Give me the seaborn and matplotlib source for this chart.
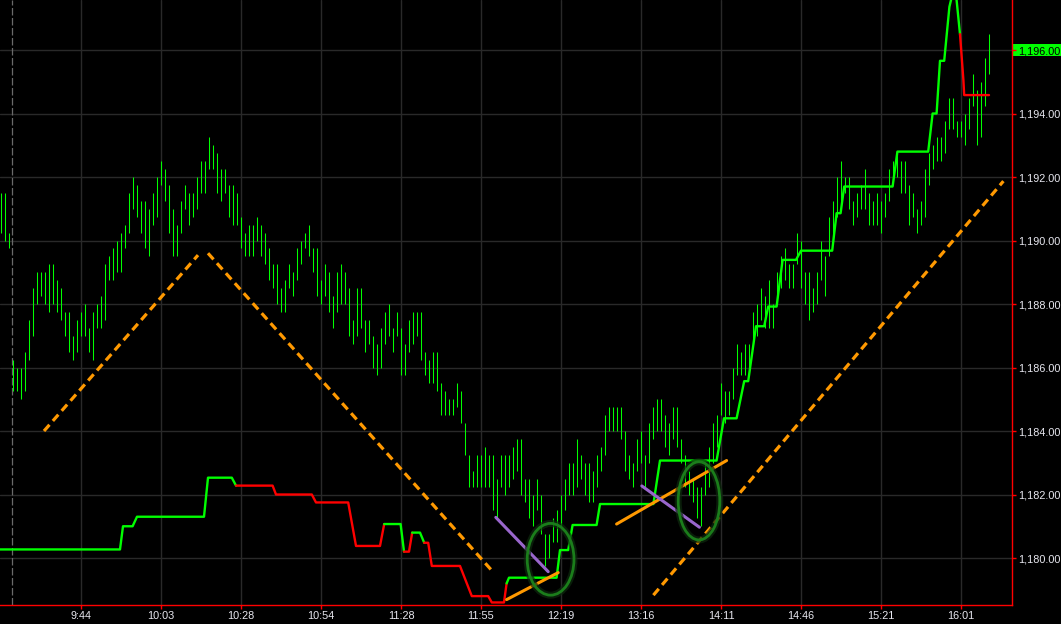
import numpy as np
import pandas as pd
import matplotlib
matplotlib.use("Agg")
import matplotlib.pyplot as plt
from matplotlib.patches import Ellipse, Rectangle
import matplotlib.transforms as mtransforms
import seaborn as sns

# ---------------- data ----------------
bar_high = [
    1191.5, 1191.5, 1190.25, 1186.25, 1186.0, 1186.0, 1186.5, 1187.5, 1188.5, 1189.0,
    1189.0, 1189.0, 1189.25, 1189.25, 1188.75, 1188.5, 1187.75, 1187.75, 1187.0, 1187.5,
    1187.75, 1188.0, 1187.25, 1187.75, 1188.0, 1188.25, 1189.25, 1189.5, 1189.75, 1190.0,
    1190.25, 1190.5, 1191.5, 1192.0, 1191.75, 1191.25, 1191.25, 1191.0, 1191.5, 1192.0,
    1192.5, 1192.25, 1191.75, 1191.0, 1190.5, 1191.25, 1191.75, 1191.5, 1191.5, 1192.0,
    1192.5, 1192.5, 1193.25, 1193.0, 1192.75, 1192.25, 1192.25, 1191.75, 1191.75, 1191.5,
    1190.75, 1190.25, 1190.5, 1190.5, 1190.75, 1190.5, 1190.25, 1189.75, 1189.25, 1189.25,
    1188.5, 1188.75, 1189.25, 1189.0, 1189.75, 1190.0, 1190.25, 1190.5, 1189.75, 1189.75,
    1188.75, 1189.25, 1189.0, 1188.25, 1189.0, 1189.25, 1189.0, 1188.5, 1187.5, 1188.5,
    1188.5, 1187.5, 1187.5, 1187.0, 1186.75, 1187.25, 1187.75, 1188.0, 1187.25, 1187.75,
    1187.25, 1186.75, 1187.5, 1187.75, 1187.75, 1187.75, 1186.5, 1186.25, 1186.5, 1186.5,
    1185.5, 1185.25, 1185.0, 1185.0, 1185.5, 1185.25, 1184.25, 1183.25, 1182.75, 1183.25,
    1183.25, 1183.5, 1183.25, 1183.25, 1182.5, 1183.25, 1183.25, 1183.25, 1183.5, 1183.75,
    1183.75, 1182.5, 1182.5, 1182.0, 1182.5, 1182.0, 1180.75, 1180.75, 1181.25, 1181.5,
    1182.0, 1182.5, 1183.0, 1183.0, 1183.75, 1183.25, 1183.0, 1183.0, 1182.75, 1183.25,
    1183.5, 1184.5, 1184.75, 1184.75, 1184.75, 1184.75, 1184.0, 1183.25, 1183.0, 1183.75,
    1184.0, 1183.25, 1184.25, 1184.75, 1185.0, 1185.0, 1184.5, 1184.25, 1184.75, 1184.75,
    1183.75, 1183.25, 1182.75, 1182.5, 1182.25, 1182.25, 1183.0, 1183.5, 1184.25, 1184.5,
    1185.5, 1185.25, 1185.25, 1186.0, 1186.75, 1186.5, 1186.75, 1186.75, 1187.75, 1188.0,
    1188.5, 1188.25, 1188.75, 1188.0, 1189.0, 1189.5, 1189.75, 1189.25, 1189.25, 1190.25,
    1190.0, 1189.0, 1189.0, 1188.5, 1189.0, 1190.0, 1189.5, 1190.75, 1191.25, 1192.0,
    1192.5, 1192.0, 1192.0, 1191.25, 1191.5, 1191.75, 1192.25, 1191.5, 1191.25, 1191.5,
    1191.25, 1191.5, 1192.25, 1192.5, 1192.75, 1192.5, 1192.5, 1191.75, 1191.5, 1191.0,
    1191.25, 1192.25, 1192.75, 1193.0, 1193.25, 1193.25, 1193.75, 1194.5, 1194.5, 1193.75,
    1193.75, 1194.0, 1194.5, 1195.25, 1194.75, 1195.0, 1195.75, 1196.5,
]
bar_low = [
    1190.25, 1190.0, 1189.75, 1185.25, 1185.25, 1185.0, 1185.25, 1186.25, 1187.0, 1188.0,
    1188.25, 1188.0, 1187.75, 1188.0, 1187.75, 1187.5, 1187.0, 1186.5, 1186.25, 1186.5,
    1187.0, 1187.0, 1186.5, 1186.25, 1187.25, 1187.25, 1187.5, 1188.75, 1188.75, 1189.0,
    1189.0, 1189.75, 1190.25, 1191.0, 1190.75, 1190.25, 1189.75, 1189.5, 1190.5, 1190.75,
    1191.75, 1191.25, 1190.25, 1189.5, 1189.5, 1190.25, 1191.0, 1190.5, 1190.75, 1191.0,
    1191.5, 1191.5, 1192.25, 1192.25, 1191.5, 1191.25, 1191.5, 1190.75, 1190.5, 1190.5,
    1189.75, 1189.5, 1189.5, 1189.5, 1190.0, 1189.5, 1189.25, 1188.75, 1188.5, 1188.0,
    1187.75, 1187.75, 1188.5, 1188.25, 1188.75, 1189.25, 1189.75, 1189.5, 1189.0, 1188.25,
    1188.0, 1188.25, 1187.75, 1187.25, 1187.75, 1188.0, 1188.0, 1187.0, 1186.75, 1187.0,
    1187.25, 1186.5, 1186.75, 1186.0, 1185.75, 1186.0, 1186.75, 1187.0, 1186.5, 1187.0,
    1185.75, 1185.75, 1186.5, 1186.75, 1187.0, 1186.25, 1185.75, 1185.5, 1185.5, 1185.25,
    1184.5, 1184.5, 1184.5, 1184.5, 1184.75, 1184.25, 1183.25, 1182.25, 1182.25, 1182.25,
    1182.25, 1182.25, 1182.25, 1181.5, 1181.25, 1182.25, 1182.0, 1182.25, 1182.5, 1182.75,
    1182.0, 1181.75, 1181.25, 1181.0, 1181.5, 1180.75, 1179.75, 1180.0, 1180.5, 1180.5,
    1181.0, 1181.5, 1182.0, 1182.0, 1182.25, 1182.5, 1182.0, 1181.75, 1181.75, 1182.25,
    1182.75, 1183.25, 1184.0, 1184.0, 1184.0, 1183.75, 1182.75, 1182.5, 1182.25, 1182.75,
    1183.0, 1182.25, 1183.0, 1183.75, 1184.0, 1184.0, 1183.5, 1183.25, 1183.75, 1183.5,
    1183.0, 1182.25, 1182.0, 1181.75, 1181.25, 1181.0, 1182.0, 1182.25, 1183.0, 1183.5,
    1184.5, 1184.25, 1184.5, 1185.0, 1185.75, 1185.75, 1185.75, 1185.75, 1186.75, 1187.0,
    1187.5, 1187.25, 1187.25, 1187.25, 1188.0, 1188.5, 1188.75, 1188.5, 1188.5, 1189.25,
    1188.5, 1188.0, 1187.5, 1187.75, 1188.0, 1188.75, 1188.25, 1189.5, 1190.0, 1190.75,
    1191.25, 1191.5, 1191.0, 1190.5, 1190.75, 1191.0, 1191.0, 1190.5, 1190.5, 1190.5,
    1190.25, 1190.75, 1191.25, 1191.75, 1192.0, 1191.5, 1191.5, 1190.5, 1190.75, 1190.25,
    1190.5, 1190.75, 1191.75, 1192.25, 1192.5, 1192.5, 1192.75, 1193.5, 1193.5, 1193.25,
    1193.25, 1193.0, 1193.5, 1194.25, 1193.0, 1193.25, 1194.25, 1195.25,
]

# trailing step line: vertices (bar index, price) and colour of the segment leaving each vertex
step_x = [-0.25, 29.75, 30.5, 32.9, 34.0, 50.75, 51.75, 57.7, 58.75, 67.9,
          68.75, 77.7, 78.75, 86.8, 88.75, 94.75, 95.8, 99.9, 100.75, 102.0,
          102.8, 104.75, 105.8, 106.8, 107.7, 114.75, 117.7, 121.8, 122.7, 125.75,
          126.4, 127.0, 138.9, 139.75, 141.8, 142.9, 148.9, 149.75, 163.1, 164.75,
          178.9, 180.75, 183.9, 185.8, 186.8, 188.75, 190.8, 191.8, 193.9, 195.4,
          198.75, 200.0, 207.8, 208.9, 209.9, 210.8, 222.9, 224.1, 231.8, 232.9,
          233.9, 234.75, 235.8, 237.1, 238.3, 238.9, 239.75, 240.6, 240.8, 247.0]
step_y = [1180.27, 1180.27, 1181.0, 1181.0, 1181.3, 1181.3, 1182.53, 1182.53, 1182.28, 1182.28,
          1182.0, 1182.0, 1181.75, 1181.75, 1180.38, 1180.38, 1181.07, 1181.07, 1180.2, 1180.2,
          1180.8, 1180.8, 1180.48, 1180.48, 1179.75, 1179.75, 1178.8, 1178.8, 1178.6, 1178.6,
          1179.2, 1179.38, 1179.38, 1180.25, 1180.25, 1181.04, 1181.04, 1181.7, 1181.7, 1183.07,
          1183.07, 1184.4, 1184.4, 1185.57, 1185.57, 1187.3, 1187.3, 1187.92, 1187.92, 1189.39,
          1189.39, 1189.68, 1189.68, 1190.86, 1190.86, 1191.7, 1191.7, 1192.8, 1192.8, 1194.0,
          1194.0, 1195.66, 1195.66, 1197.36, 1198.0, 1197.57, 1196.5, 1195.05, 1194.58, 1194.58]
step_col = (["g"] * 8 + ["r"] * 8 + ["g"] * 2 + ["r"] * 2 + ["g"] * 2 + ["r"] * 8
            + ["g"] * 36 + ["r"] * 4)

# drawn studies: (x0, y0, x1, y1) in bar index / price
dashed_lines = [(10.75, 1184.0, 49.25, 1189.54),
                (51.75, 1189.6, 123.1, 1179.55),
                (163.1, 1178.83, 250.6, 1191.87)]
orange_lines = [(126.4, 1178.69, 139.3, 1179.54),
                (153.9, 1181.07, 181.4, 1183.07)]
purple_lines = [(123.7, 1181.28, 136.8, 1179.57),
                (160.2, 1182.27, 174.6, 1180.97)]
ellipses = [(137.4, 1179.96, 11.7, 2.26),
            (174.5, 1181.8, 10.4, 2.46)]

y_ticks = [1180, 1182, 1184, 1186, 1188, 1190, 1192, 1194, 1196]
x_tick_pos = [20, 40, 60, 80, 100, 120, 140, 160, 180, 200, 220, 240]
x_tick_lab = ["9:44", "10:03", "10:28", "10:54", "11:28", "11:55", "12:19",
              "13:16", "14:11", "14:46", "15:21", "16:01"]
last_price = 1196.0
session_break = 2.75

# ---------------- style ----------------
sns.set_theme(style="dark")
plt.rcParams["font.family"] = ["Liberation Sans", "DejaVu Sans"]

GREEN = "#00ff00"
RED = "#ff0000"
ORANGE = "#ff9900"
PURPLE = "#9966cc"
TXT = "#e8e8f0"

fig = plt.figure(figsize=(10.61, 6.24), dpi=100, facecolor="black")
ax = fig.add_axes([0, 19 / 624, 1012 / 1061, 605 / 624])
ax.set_facecolor("black")

ax.set_xlim(-0.25, 252.75)
ax.set_ylim(1178.52, 1197.575)

# grid
ax.set_yticks(y_ticks)
ax.set_xticks(x_tick_pos)
ax.grid(True, color="#292929", lw=1.0)
ax.set_axisbelow(True)

# session separator
ax.axvline(session_break, color="#6a6a6a", lw=0.9, ls=(0, (6, 2)), zorder=1)

# price bars
idx = np.arange(len(bar_high))
bars = ax.vlines(idx, bar_low, bar_high, colors=GREEN, linewidths=0.75, zorder=3)
bars.set_snap(True)

# step line
df = pd.DataFrame({"x": step_x, "y": step_y, "c": step_col})
start = 0
n = len(df)
while start < n - 1:
    c = step_col[start]
    end = start
    while end < n - 1 and step_col[end] == c:
        end += 1
    seg = df.iloc[start:end + 1]
    sns.lineplot(data=seg, x="x", y="y", estimator=None, sort=False, ax=ax,
                 color=GREEN if c == "g" else RED, lw=1.7, zorder=4)
    start = end

# trend lines
for (x0, y0, x1, y1) in dashed_lines:
    sns.lineplot(x=[x0, x1], y=[y0, y1], estimator=None, sort=False, ax=ax,
                 color=ORANGE, lw=2.3, dashes=False, zorder=5)
    ax.lines[-1].set_linestyle((0, (2.6, 1.6)))
for (x0, y0, x1, y1) in orange_lines:
    sns.lineplot(x=[x0, x1], y=[y0, y1], estimator=None, sort=False, ax=ax,
                 color=ORANGE, lw=2.2, zorder=5)
for (x0, y0, x1, y1) in purple_lines:
    sns.lineplot(x=[x0, x1], y=[y0, y1], estimator=None, sort=False, ax=ax,
                 color=PURPLE, lw=2.2, zorder=5)
for (cx, cy, w, h) in ellipses:
    ax.add_patch(Ellipse((cx, cy), w, h, fill=False, ec="#0d2a0d", lw=5, zorder=5.5, alpha=0.7))
    ax.add_patch(Ellipse((cx, cy), w, h, fill=False, ec="#1b7d1b", lw=2.0, zorder=6))

# axes decoration
for s in ["left", "top"]:
    ax.spines[s].set_visible(False)
for s in ["right", "bottom"]:
    ax.spines[s].set_visible(True)
    ax.spines[s].set_color(RED)
    ax.spines[s].set_linewidth(1.0)

ax.yaxis.tick_right()
ax.set_yticklabels([f"{v:,.2f}" for v in y_ticks])
ax.set_xticklabels(x_tick_lab)
ax.tick_params(axis="y", which="both", right=True, left=False, colors=RED, length=3,
               width=1, pad=1.5, labelsize=7.8, labelcolor=TXT)
ax.tick_params(axis="x", which="both", bottom=True, colors=RED, length=3, width=1,
               pad=1.5, labelsize=7.8, labelcolor=TXT)
ax.set_xlabel("")
ax.set_ylabel("")

# last price marker
trans = mtransforms.blended_transform_factory(ax.transAxes, ax.transData)
ax.add_patch(Rectangle((1.0, last_price - 0.19), 1061 / 1012 - 1.0, 0.38, transform=trans,
                       facecolor=GREEN, edgecolor="none", clip_on=False, zorder=0.1))
for tick, v in zip(ax.yaxis.get_major_ticks(), y_ticks):
    if v == last_price:
        tick.label1.set_color("black")
        tick.label2.set_color("black")

fig.savefig("out.png", dpi=100, facecolor="black")
